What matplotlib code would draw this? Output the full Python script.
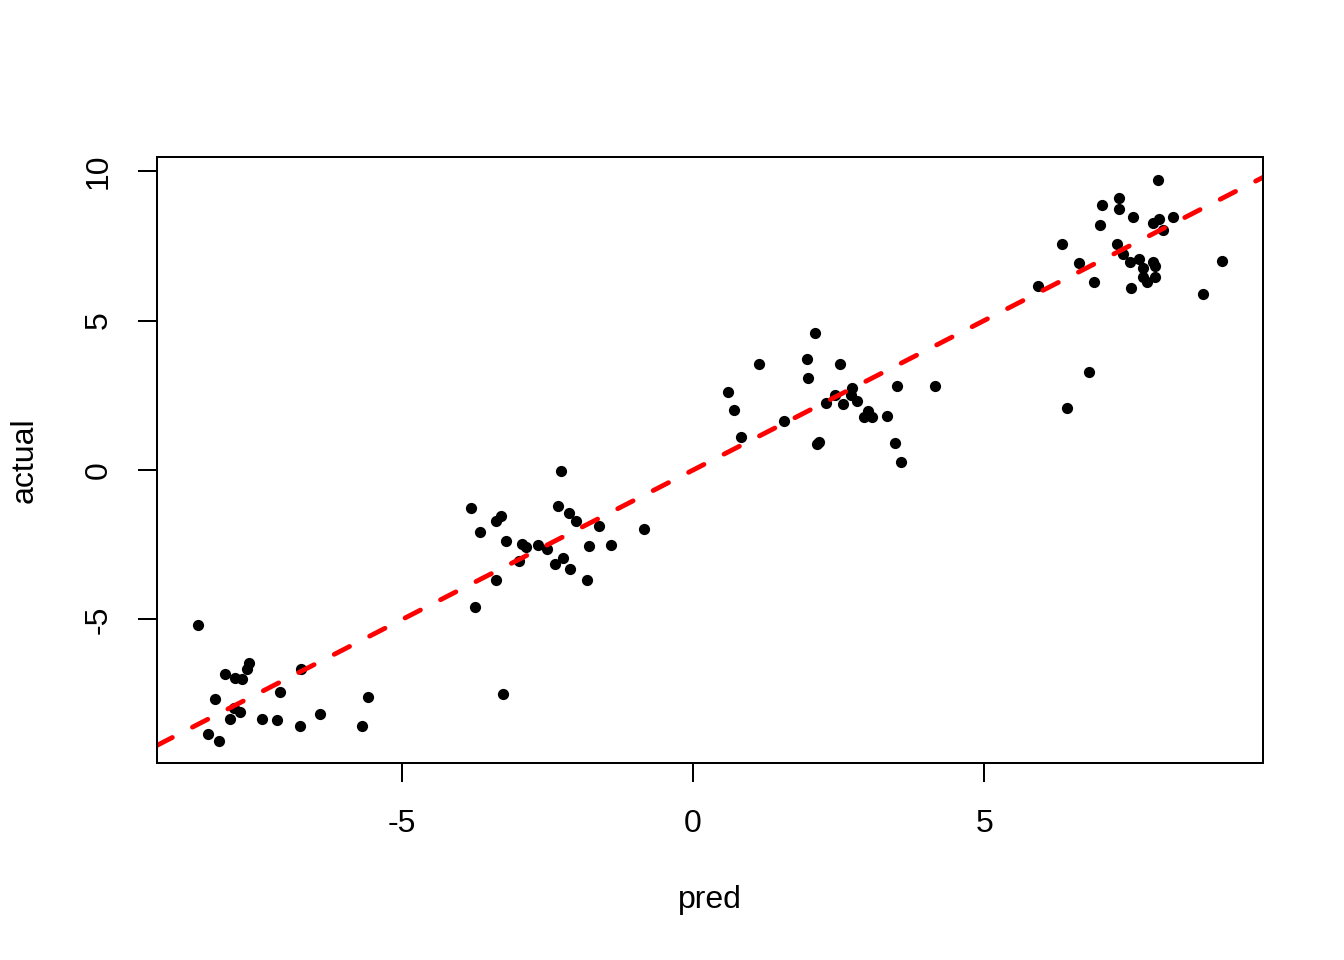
import matplotlib.pyplot as plt
import numpy as np

plt.rcParams['font.family'] = ['Liberation Sans', 'DejaVu Sans']
plt.rcParams['axes.unicode_minus'] = False

# values (pred, actual)
pred = [-8.51, -7.63, -7.66, -8.04, -7.87, -7.75, -6.74, -7.10, -8.21, -5.58,
        -3.26, -7.89, -7.78, -7.96, -7.41, -7.15, -6.41, -6.75, -5.69, -8.33,
        -8.14, -3.75,
        -2.27, -3.81, -2.32, -2.13, -2.01, -3.30, -3.38, -3.66, -1.62, -0.84,
        -3.21, -2.94, -2.87, -2.66, -2.51, -1.79, -1.41, -2.99, -2.23, -2.37,
        -2.11, -3.38, -1.82,
        2.10, 1.13, 1.96, 2.53, 1.98, 0.60, 0.70, 3.51, 4.16, 2.73,
        2.44, 2.71, 2.29, 2.58, 2.82, 3.01, 2.94, 3.08, 3.33, 1.56,
        0.82, 2.16, 2.13, 3.47, 3.57,
        7.99, 7.32, 7.32, 7.03, 7.56, 8.25, 8.01, 7.90, 8.08, 6.99,
        6.34, 7.29, 7.39, 7.51, 7.66, 7.90, 7.94, 7.73, 7.73, 7.80,
        7.94, 6.63, 9.09, 5.93, 6.89, 7.53, 8.76, 6.80, 6.43]
actual = [-5.18, -6.45, -6.66, -6.82, -6.96, -6.99, -6.66, -7.42, -7.66, -7.59,
          -7.49, -7.96, -8.09, -8.33, -8.33, -8.36, -8.16, -8.56, -8.56, -8.83,
          -9.06, -4.58,
          -0.03, -1.27, -1.20, -1.44, -1.71, -1.54, -1.71, -2.07, -1.87, -1.97,
          -2.37, -2.47, -2.58, -2.51, -2.64, -2.54, -2.51, -3.04, -2.94, -3.14,
          -3.31, -3.68, -3.68,
          4.58, 3.55, 3.71, 3.55, 3.08, 2.61, 2.01, 2.81, 2.81, 2.74,
          2.51, 2.51, 2.24, 2.21, 2.31, 1.97, 1.77, 1.77, 1.81, 1.64,
          1.10, 0.94, 0.87, 0.90, 0.27,
          9.70, 9.10, 8.73, 8.86, 8.46, 8.46, 8.39, 8.26, 8.03, 8.19,
          7.56, 7.56, 7.22, 6.96, 7.06, 6.96, 6.82, 6.76, 6.45, 6.29,
          6.45, 6.92, 6.99, 6.15, 6.29, 6.09, 5.89, 3.28, 2.07]

x_ticks = [-5, 0, 5]
y_ticks = [-5, 0, 5, 10]

fig = plt.figure(figsize=(7, 5), dpi=192)
ax = fig.add_axes([157 / 1344, 1 - 763 / 960, (1263 - 157) / 1344, (763 - 157) / 960])

ax.plot(pred, actual, 'o', color='black', ms=4.2, mew=0)
ax.axline((0, 0), slope=1, color='red', lw=1.8,
          linestyle=(0, (3.6, 4.7)), dash_capstyle='round')

ax.set_xlim(-9.21, 9.79)
ax.set_ylim(-9.80, 10.47)
ax.set_xticks(x_ticks)
ax.set_yticks(y_ticks)
ax.tick_params(axis='both', direction='out', length=7.2, width=0.75,
               labelsize=12, color='black')
ax.tick_params(axis='x', pad=10)
ax.tick_params(axis='y', pad=9, labelrotation=90)
for lab in ax.get_yticklabels():
    lab.set_va('center')

for s in ax.spines.values():
    s.set_linewidth(0.75)
    s.set_color('black')

ax.set_xlabel('pred', fontsize=12)
ax.set_ylabel('actual', fontsize=12)
ax.xaxis.set_label_coords(0.5, (763 - 900) / 606)
ax.xaxis.label.set_va('center')
ax.yaxis.set_label_coords((25 - 157) / 1106, 0.5)
ax.yaxis.label.set_va('center')

fig.savefig('out.png', dpi=192)
